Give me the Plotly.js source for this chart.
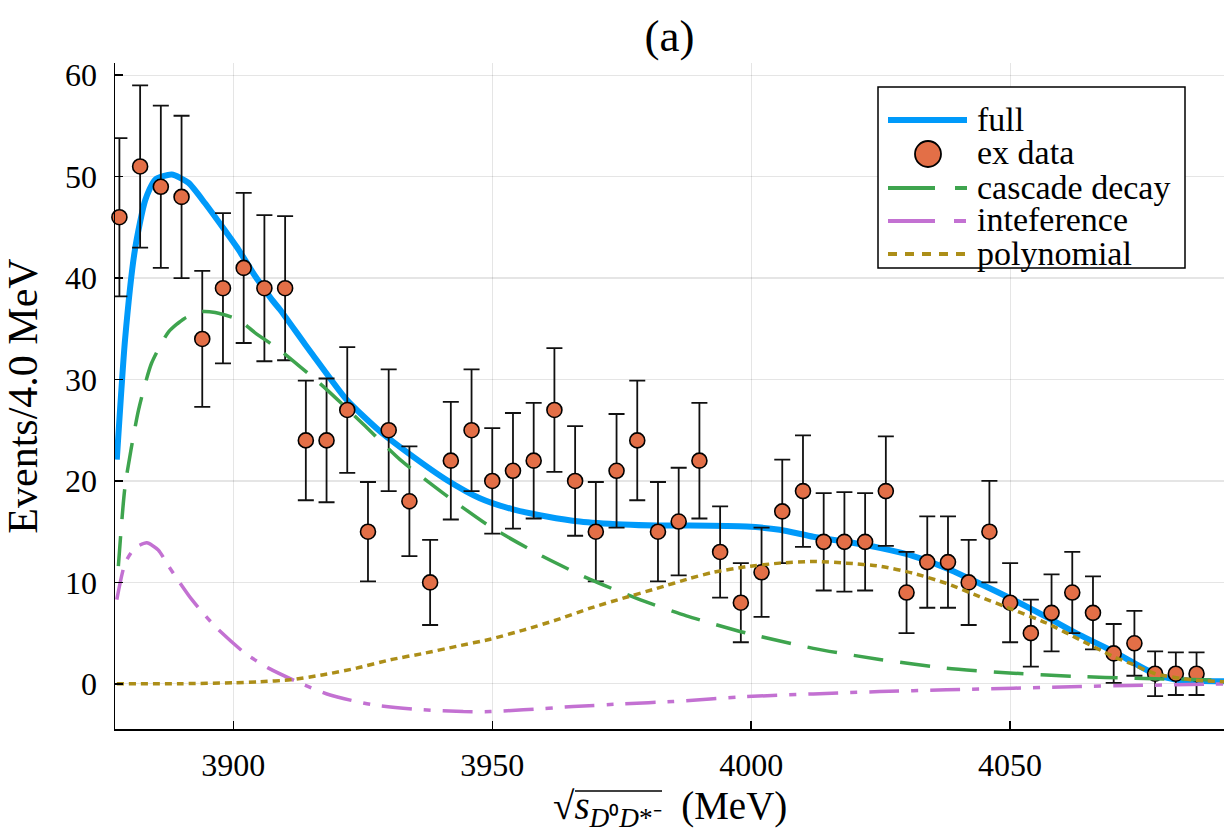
<!DOCTYPE html>
<html>
<head>
<meta charset="utf-8">
<script src="https://cdn.plot.ly/plotly-3.0.1.min.js"></script>
<style>html,body{margin:0;padding:0;background:#fff;overflow:hidden;}#chart{width:1224px;height:836px;}</style>
</head>
<body>
<div id="chart"></div>
<script>
// Experimental data (bin centres, events per 4 MeV, errors)
const massX = [3878, 3882, 3886, 3890, 3894, 3898, 3902, 3906, 3910, 3914,
  3918, 3922, 3926, 3930, 3934, 3938, 3942, 3946, 3950, 3954,
  3958, 3962, 3966, 3970, 3974, 3978, 3982, 3986, 3990, 3994,
  3998, 4002, 4006, 4010, 4014, 4018, 4022, 4026, 4030, 4034,
  4038, 4042, 4046, 4050, 4054, 4058, 4062, 4066, 4070, 4074,
  4078, 4082, 4086];
const events = [46, 51, 49, 48, 34, 39, 41, 39, 39, 24,
  24, 27, 15, 25, 18, 10, 22, 25, 20, 21,
  22, 27, 20, 15, 21, 24, 15, 16, 22, 13,
  8, 11, 17, 19, 14, 14, 14, 19, 9, 12,
  12, 10, 15, 8, 5, 7, 9, 7, 3, 4,
  1, 1, 1];
const errors = [7.8, 8.0, 8.0, 8.0, 6.7, 7.4, 7.4, 7.2, 7.1, 5.9,
  6.1, 6.2, 4.9, 6.0, 5.4, 4.2, 5.8, 6.0, 5.2, 5.7,
  5.7, 6.1, 5.4, 4.9, 5.6, 5.9, 4.9, 5.3, 5.7, 4.5,
  3.9, 4.4, 5.1, 5.5, 4.8, 4.9, 4.8, 5.4, 4.0, 4.5,
  4.5, 4.2, 5.0, 3.9, 3.3, 3.8, 4.0, 3.6, 2.9, 3.2,
  2.2, 2.1, 2.1];

// Fit curves
const fullX = [3877.5, 3879.1, 3881.0, 3883.0, 3884.9, 3888.1, 3891.3, 3894.5, 3897.8, 3901.0,
  3904.2, 3907.4, 3909.0, 3913.8, 3915.4, 3921.9, 3928.3, 3934.7, 3941.2, 3947.6,
  3954.0, 3960.5, 3966.9, 3975.3, 3981.7, 3988.2, 3999.1, 4005.5, 4012.0, 4018.4,
  4024.8, 4031.3, 4037.7, 4044.1, 4050.6, 4057.0, 4063.5, 4069.9, 4077.6, 4082.1, 4091.5];
const fullY = [22.1, 34.0, 42.8, 47.7, 49.7, 50.2, 49.4, 47.4, 45.1, 42.8,
  40.2, 37.9, 36.9, 33.5, 32.4, 28.0, 24.9, 22.4, 20.1, 18.3,
  17.2, 16.5, 16.0, 15.7, 15.6, 15.6, 15.5, 15.2, 14.5, 14.0,
  13.4, 12.6, 11.4, 9.9, 8.3, 6.6, 4.8, 3.2, 1.05, 0.4, 0.25];

const cascadeX = [3877.8, 3879.1, 3881.7, 3884.2, 3887.5, 3890.5, 3893.9, 3896.5, 3901.0, 3904.2,
  3909.0, 3917.4, 3925.1, 3932.2, 3940.5, 3949.6, 3959.8, 3968.9, 3978.5, 3987.5,
  3999.1, 4012.0, 4024.8, 4037.7, 4050.6, 4063.5, 4073.1, 4091.5];
const cascadeY = [11.6, 19.5, 27.0, 31.6, 34.7, 36.0, 36.7, 36.6, 35.9, 34.6,
  32.9, 29.3, 25.6, 22.1, 18.8, 15.5, 12.55, 10.3, 8.3, 6.7,
  5.0, 3.5, 2.4, 1.55, 1.05, 0.72, 0.56, 0.35];

const interfX = [3877.5, 3879.1, 3881.0, 3883.3, 3885.5, 3887.5, 3892.0, 3896.5, 3902.3, 3906.8,
  3912.9, 3918.7, 3927.0, 3936.7, 3944.4, 3949.6, 3956.0, 3965.6, 3975.3, 3984.9,
  3999.1, 4012.0, 4024.8, 4037.7, 4050.6, 4063.5, 4073.1, 4091.5];
const interfY = [8.3, 11.9, 13.4, 13.9, 13.2, 11.6, 8.3, 5.65, 3.0, 1.55,
  0.07, -1.1, -2.07, -2.56, -2.73, -2.73, -2.56, -2.24, -1.97, -1.74,
  -1.25, -0.99, -0.76, -0.59, -0.43, -0.26, -0.17, 0.0];

const polyX = [3877.5, 3890, 3900, 3905, 3911.0, 3917.4, 3923.8, 3930.3, 3936.7, 3943.1,
  3949.6, 3956.0, 3962.4, 3968.9, 3975.3, 3981.7, 3988.2, 3992.7, 3999.1, 4005.5,
  4012.0, 4018.4, 4024.8, 4031.3, 4037.7, 4044.1, 4050.6, 4057.0, 4063.5, 4069.9,
  4073.1, 4078, 4085, 4091.5];
const polyY = [0.0, 0.02, 0.1, 0.2, 0.4, 0.9, 1.55, 2.37, 3.0, 3.7,
  4.4, 5.3, 6.3, 7.46, 8.45, 9.4, 10.4, 11.0, 11.55, 11.9,
  12.06, 11.9, 11.6, 10.9, 9.9, 8.6, 7.3, 6.0, 4.34, 2.7,
  2.04, 1.0, 0.4, 0.2];

const seriesNames = ['full', 'ex data', 'cascade decay', 'inteference', 'polynomial'];
const xTicks = [3900, 3950, 4000, 4050];
const yTicks = [0, 10, 20, 30, 40, 50, 60];
const xTitle = '\u221A<i>s</i><sub><i>D</i>\u2070<i>D</i>*\u207B</sub>\u2002(MeV)';
const yTitle = 'Events/4.0 MeV';

const FONT = 'Liberation Serif';
const COLORS = ['#009AFA', '#E36F47', '#3EA44E', '#C371D2', '#AC8E18'];

// plot-area geometry in pixels (for placing the hand-made legend)
const M = {l: 115, r: 0, t: 63, b: 107};
const W = 1224, H = 836;
const PW = W - M.l - M.r, PH = H - M.t - M.b;
const px2x = p => (p - M.l) / PW;
const px2y = p => (H - M.b - p) / PH;

const traces = [
  {x: fullX, y: fullY, name: seriesNames[0], type: 'scatter', mode: 'lines', showlegend: false,
   line: {color: COLORS[0], width: 6, shape: 'spline', smoothing: 0.6}},
  {x: massX, y: events, name: seriesNames[1], type: 'scatter', mode: 'markers', cliponaxis: false, showlegend: false,
   marker: {color: COLORS[1], size: 15, line: {color: '#000', width: 1.6}},
   error_y: {type: 'data', array: errors, visible: true, color: '#111', thickness: 1.8, width: 8}},
  {x: cascadeX, y: cascadeY, name: seriesNames[2], type: 'scatter', mode: 'lines', showlegend: false,
   line: {color: COLORS[2], width: 3.5, dash: '30px,17px', shape: 'spline', smoothing: 0.6}},
  {x: interfX, y: interfY, name: seriesNames[3], type: 'scatter', mode: 'lines', showlegend: false,
   line: {color: COLORS[3], width: 3.5, dash: '30px,12px,7px,12px', shape: 'spline', smoothing: 0.6}},
  {x: polyX, y: polyY, name: seriesNames[4], type: 'scatter', mode: 'lines', showlegend: false,
   line: {color: COLORS[4], width: 3.5, dash: '7px,5px', shape: 'spline', smoothing: 0.6}}
];

// hand-made legend (box, samples, labels)
const legBox = {x0: 878, x1: 1185, y0: 87, y1: 268};
const rowY = [120, 154, 188, 221, 254];
const sampleX0 = 888, sampleX1 = 967, textX = 975;
const sampleStyles = [
  {color: COLORS[0], width: 6, dash: 'solid'},
  null,
  {color: COLORS[2], width: 4, dash: '47px,20px,12px,20px'},
  {color: COLORS[3], width: 4, dash: '47px,19px,12px,20px'},
  {color: COLORS[4], width: 4, dash: '9px,8px'}
];
const shapes = [{
  type: 'rect', xref: 'paper', yref: 'paper', layer: 'above',
  x0: px2x(legBox.x0), x1: px2x(legBox.x1), y0: px2y(legBox.y1), y1: px2y(legBox.y0),
  fillcolor: '#fff', line: {color: '#000', width: 1.5}
}];
const annotations = [];
seriesNames.forEach((nm, i) => {
  if (sampleStyles[i]) {
    shapes.push({type: 'line', xref: 'paper', yref: 'paper', layer: 'above',
      x0: px2x(sampleX0), x1: px2x(sampleX1), y0: px2y(rowY[i]), y1: px2y(rowY[i]),
      line: sampleStyles[i]});
  } else {
    shapes.push({type: 'circle', xref: 'paper', yref: 'paper', layer: 'above',
      x0: px2x(928 - 13), x1: px2x(928 + 13), y0: px2y(rowY[i] + 13), y1: px2y(rowY[i] - 13),
      fillcolor: COLORS[1], line: {color: '#000', width: 1.8}});
  }
  annotations.push({text: nm, xref: 'paper', yref: 'paper', x: px2x(textX), y: px2y(rowY[i] - 1),
    xanchor: 'left', yanchor: 'middle', showarrow: false,
    font: {family: FONT, size: 34, color: '#000'}});
});
// x-axis title, placed under the tick labels (bottom of its box near the page bottom)
annotations.push({text: xTitle, xref: 'paper', yref: 'paper', x: 0.5, y: px2y(835),
  xanchor: 'center', yanchor: 'bottom', showarrow: false,
  font: {family: FONT, size: 39, color: '#000'}});
// vinculum of the square root in the x-axis title
shapes.push({type: 'line', xref: 'paper', yref: 'paper', layer: 'above',
  x0: px2x(575), x1: px2x(662), y0: px2y(791), y1: px2y(791), line: {color: '#000', width: 1.6}});

const layout = {
  width: W, height: H,
  margin: M,
  paper_bgcolor: '#fff', plot_bgcolor: '#fff',
  font: {family: FONT, color: '#000'},
  showlegend: false,
  title: {text: '(a)', font: {family: FONT, size: 45, color: '#000'},
          x: 0.5, xref: 'paper', xanchor: 'center', y: 0.958, yref: 'container', yanchor: 'middle'},
  xaxis: {
    range: [3877.15, 4091.3], tickvals: xTicks, ticktext: xTicks.map(String),
    showline: true, linecolor: '#000', linewidth: 1.5, mirror: false,
    showgrid: true, gridcolor: 'rgba(0,0,0,0.1)', gridwidth: 1.2, zeroline: false,
    ticks: 'inside', ticklen: 8, tickwidth: 1.5, tickcolor: '#000',
    tickfont: {family: FONT, size: 32, color: '#000'}, ticklabelstandoff: 7
  },
  yaxis: {
    range: [-4.45, 61.2], tickvals: yTicks, ticktext: yTicks.map(String),
    showline: true, linecolor: '#000', linewidth: 1.5, mirror: false,
    showgrid: true, gridcolor: 'rgba(0,0,0,0.1)', gridwidth: 1.2, zeroline: false,
    ticks: 'inside', ticklen: 8, tickwidth: 1.5, tickcolor: '#000',
    tickfont: {family: FONT, size: 32, color: '#000'}, ticklabelstandoff: 10,
    title: {text: yTitle, font: {family: FONT, size: 42, color: '#000'}, standoff: 16}
  },
  shapes: shapes,
  annotations: annotations
};

Plotly.newPlot('chart', traces, layout, {displayModeBar: false, staticPlot: true});
</script>
</body>
</html>
